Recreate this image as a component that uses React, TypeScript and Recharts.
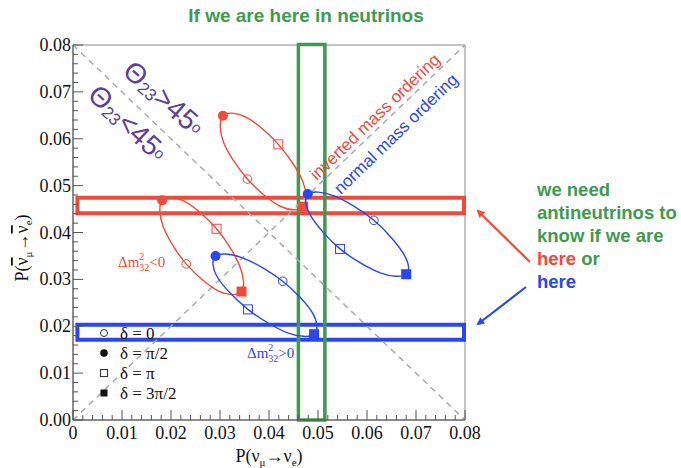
import React from 'react';
import { ComposedChart, Scatter, XAxis, YAxis, ReferenceArea, ReferenceLine } from 'recharts';

// points along each ellipse, in delta order 0, 45, 90 ... 315 degrees
const redUpper = [
  { x: 0.0356, y: 0.0514, d: 0 },
  { x: 0.0307, y: 0.0593, d: 45 },
  { x: 0.0306, y: 0.0649, d: 90 },
  { x: 0.0353, y: 0.0646, d: 135 },
  { x: 0.0419, y: 0.0588, d: 180 },
  { x: 0.0469, y: 0.0509, d: 225 },
  { x: 0.047, y: 0.0455, d: 270 },
  { x: 0.0423, y: 0.0456, d: 315 },
];
const redLower = [
  { x: 0.0231, y: 0.0333, d: 0 },
  { x: 0.0184, y: 0.0413, d: 45 },
  { x: 0.0182, y: 0.0469, d: 90 },
  { x: 0.0227, y: 0.0467, d: 135 },
  { x: 0.0293, y: 0.0408, d: 180 },
  { x: 0.034, y: 0.0329, d: 225 },
  { x: 0.0344, y: 0.0274, d: 270 },
  { x: 0.0297, y: 0.0275, d: 315 },
];
const blueLower = [
  { x: 0.0428, y: 0.0296, d: 0 },
  { x: 0.0346, y: 0.0346, d: 45 },
  { x: 0.0291, y: 0.035, d: 90 },
  { x: 0.0295, y: 0.0304, d: 135 },
  { x: 0.0357, y: 0.0236, d: 180 },
  { x: 0.0438, y: 0.0186, d: 225 },
  { x: 0.0492, y: 0.0183, d: 270 },
  { x: 0.0489, y: 0.0228, d: 315 },
];
const blueUpper = [
  { x: 0.0614, y: 0.0426, d: 0 },
  { x: 0.0533, y: 0.0478, d: 45 },
  { x: 0.0479, y: 0.0482, d: 90 },
  { x: 0.0485, y: 0.0436, d: 135 },
  { x: 0.0545, y: 0.0365, d: 180 },
  { x: 0.0627, y: 0.0314, d: 225 },
  { x: 0.068, y: 0.0311, d: 270 },
  { x: 0.0675, y: 0.0354, d: 315 },
];

const xTickLabels = ['0', '0.01', '0.02', '0.03', '0.04', '0.05', '0.06', '0.07', '0.08'];
const yTickLabels = ['0.00', '0.01', '0.02', '0.03', '0.04', '0.05', '0.06', '0.07', '0.08'];
const legendItems = ['δ = 0', 'δ = π/2', 'δ = π', 'δ = 3π/2'];

// highlight boxes
const redBox = { x1: 0.0009, x2: 0.0798, y1: 0.0441, y2: 0.0474 };
const blueBox = { x1: 0.0009, x2: 0.0798, y1: 0.0171, y2: 0.0203 };
const greenBox = { x1: 0.046, x2: 0.0514, y1: 0, y2: 0.0801 };

const RED = '#f04a3a';
const BLUE = '#2a46f0';
const GREEN = '#3d9a4f';
const PURPLE = '#5b3f9c';
const SERIF = '"Liberation Serif", "Times New Roman", serif';
const SANS = '"Liberation Sans", Arial, sans-serif';

const allTicks = Array.from({ length: 41 }, (_, i) => Math.round(i * 2) / 1000);

const isMajor = (v: number) => Math.abs(v * 100 - Math.round(v * 100)) < 1e-6;

// closed smooth curve through the points (catmull-rom)
const closedCurve = (context: any) => {
  let pts: number[][] = [];
  return {
    areaStart() {},
    areaEnd() {},
    lineStart() {
      pts = [];
    },
    point(x: number, y: number) {
      pts.push([+x, +y]);
    },
    lineEnd() {
      const n = pts.length;
      if (!n) return;
      context.moveTo(pts[0][0], pts[0][1]);
      for (let i = 0; i < n; i++) {
        const p0 = pts[(i - 1 + n) % n];
        const p1 = pts[i];
        const p2 = pts[(i + 1) % n];
        const p3 = pts[(i + 2) % n];
        context.bezierCurveTo(
          p1[0] + (p2[0] - p0[0]) / 6,
          p1[1] + (p2[1] - p0[1]) / 6,
          p2[0] - (p3[0] - p1[0]) / 6,
          p2[1] - (p3[1] - p1[1]) / 6,
          p2[0],
          p2[1]
        );
      }
      context.closePath();
    },
  };
};

const marker = (colour: string) => (props: any) => {
  const { cx, cy, payload } = props;
  const d = payload.d;
  if (d === 0) return <circle cx={cx} cy={cy} r={4.3} fill="none" stroke={colour} strokeWidth={1} />;
  if (d === 90) return <circle cx={cx} cy={cy} r={5} fill={colour} />;
  if (d === 180) return <rect x={cx - 4.5} y={cy - 4.5} width={9} height={9} fill="none" stroke={colour} strokeWidth={1} />;
  if (d === 270) return <rect x={cx - 5} y={cy - 5} width={10} height={10} fill={colour} />;
  return <g />;
};

const XTick = (props: any) => {
  const { x, y, payload } = props;
  const major = isMajor(payload.value);
  return (
    <g>
      <line x1={x} x2={x} y1={y} y2={y - (major ? 10 : 5)} stroke="#555" />
      {major && (
        <text x={x} y={y + 19} textAnchor="middle" fontSize={18} fontFamily={SERIF} fill="#111">
          {xTickLabels[Math.round(payload.value * 100)]}
        </text>
      )}
    </g>
  );
};

const YTick = (props: any) => {
  const { x, y, payload } = props;
  const major = isMajor(payload.value);
  return (
    <g>
      <line x1={x} x2={x + (major ? 10 : 5)} y1={y} y2={y} stroke="#555" />
      {major && (
        <text x={x - 2} y={y + 6} textAnchor="end" fontSize={18} fontFamily={SERIF} fill="#111">
          {yTickLabels[Math.round(payload.value * 100)]}
        </text>
      )}
    </g>
  );
};

const legendMark = (i: number, x: number, y: number) => {
  if (i === 0) return <circle cx={x} cy={y} r={3.5} fill="none" stroke="#333" />;
  if (i === 1) return <circle cx={x} cy={y} r={3.8} fill="#111" />;
  if (i === 2) return <rect x={x - 3.5} y={y - 3.5} width={7} height={7} fill="none" stroke="#333" />;
  return <rect x={x - 3.5} y={y - 3.5} width={7} height={7} fill="#111" />;
};

const bar = { textDecoration: 'overline' };

const Overlay = () => (
  <svg width={681} height={468} style={{ position: 'absolute', left: 0, top: 0, pointerEvents: 'none' }}>
    <defs>
      <marker id="arrRed" markerWidth="8" markerHeight="8" refX="6" refY="4" orient="auto" markerUnits="userSpaceOnUse">
        <path d="M0,0 L8,4 L0,8 z" fill={RED} />
      </marker>
      <marker id="arrBlue" markerWidth="8" markerHeight="8" refX="6" refY="4" orient="auto" markerUnits="userSpaceOnUse">
        <path d="M0,0 L8,4 L0,8 z" fill={BLUE} />
      </marker>
    </defs>
    {/* theta labels */}
    <text transform="translate(164,98) rotate(41)" textAnchor="middle" dominantBaseline="central" fontSize={28} fontFamily={SANS} fill={PURPLE}>
      Θ<tspan fontSize={17} dy={6}>23</tspan>
      <tspan dy={-6}>&gt;45</tspan>
      <tspan fontSize={15}>o</tspan>
    </text>
    <text transform="translate(128,123) rotate(43)" textAnchor="middle" dominantBaseline="central" fontSize={28} fontFamily={SANS} fill={PURPLE}>
      Θ<tspan fontSize={17} dy={6}>23</tspan>
      <tspan dy={-6}>&lt;45</tspan>
      <tspan fontSize={15}>o</tspan>
    </text>
    <text transform="translate(375,117) rotate(-44)" textAnchor="middle" dominantBaseline="central" fontSize={17} fontFamily={SANS} fill={RED}>
      inverted mass ordering
    </text>
    <text transform="translate(396,134) rotate(-44)" textAnchor="middle" dominantBaseline="central" fontSize={17} fontFamily={SANS} fill={BLUE}>
      normal mass ordering
    </text>
    {/* delta m^2 labels */}
    <text x={118} y={267} fontSize={15} fontFamily={SERIF} fill={RED}>
      Δm<tspan fontSize={10} dy={-7}>2</tspan>
      <tspan fontSize={10} dx={-5} dy={11}>32</tspan>
      <tspan dy={-4}>&lt;0</tspan>
    </text>
    <text x={247} y={358} fontSize={15} fontFamily={SERIF} fill={BLUE}>
      Δm<tspan fontSize={10} dy={-7}>2</tspan>
      <tspan fontSize={10} dx={-5} dy={11}>32</tspan>
      <tspan dy={-4}>&gt;0</tspan>
    </text>
    {/* legend */}
    {legendItems.map((t, i) => (
      <g key={t}>
        {legendMark(i, 104, 333 + i * 20)}
        <text x={120} y={339 + i * 20} fontSize={17} fontFamily={SERIF} fill="#111">
          {t}
        </text>
      </g>
    ))}
    {/* axis titles */}
    <text x={269} y={462} textAnchor="middle" fontSize={18} fontFamily={SERIF} fill="#111">
      P(ν<tspan fontSize={11} dy={4}>μ</tspan>
      <tspan dy={-4}>→ν</tspan>
      <tspan fontSize={11} dy={4}>e</tspan>
      <tspan dy={-4}>)</tspan>
    </text>
    <text transform="translate(28,248) rotate(-90)" textAnchor="middle" fontSize={18} fontFamily={SERIF} fill="#111">
      P(<tspan style={bar}>ν</tspan>
      <tspan fontSize={11} dy={4}>μ</tspan>
      <tspan dy={-4}>→</tspan>
      <tspan style={bar}>ν</tspan>
      <tspan fontSize={11} dy={4}>e</tspan>
      <tspan dy={-4}>)</tspan>
    </text>
    {/* arrows */}
    <line x1={530} y1={262} x2={478} y2={211} stroke={RED} strokeWidth={2.2} markerEnd="url(#arrRed)" />
    <line x1={526} y1={287} x2={478} y2={324} stroke={BLUE} strokeWidth={2.2} markerEnd="url(#arrBlue)" />
  </svg>
);

export default function App() {
  return (
    <div style={{ position: 'absolute', left: 0, top: 0, width: 681, height: 468, background: '#fff', overflow: 'hidden' }}>
      <ComposedChart width={681} height={468} margin={{ top: 45, right: 216, bottom: 18, left: 13 }}>
        <XAxis
          type="number"
          dataKey="x"
          domain={[0, 0.08]}
          ticks={allTicks}
          interval={0}
          tick={<XTick />}
          tickLine={false}
          tickSize={0}
          tickMargin={0}
          height={30}
          axisLine={{ stroke: '#555' }}
          allowDataOverflow
        />
        <YAxis
          type="number"
          dataKey="y"
          domain={[0, 0.08]}
          ticks={allTicks}
          interval={0}
          tick={<YTick />}
          tickLine={false}
          tickSize={0}
          tickMargin={0}
          width={60}
          axisLine={{ stroke: '#555' }}
          allowDataOverflow
        />
        <ReferenceArea x1={0} x2={0.08} y1={0} y2={0.08} fill="none" stroke="#888" strokeWidth={1} />
        <ReferenceLine segment={[{ x: 0, y: 0.08 }, { x: 0.08, y: 0 }]} stroke="#aaa" strokeWidth={1.5} strokeDasharray="6 5" />
        <ReferenceLine segment={[{ x: 0, y: 0 }, { x: 0.08, y: 0.08 }]} stroke="#aaa" strokeWidth={1.5} strokeDasharray="6 5" />
        <Scatter data={redUpper} line={{ stroke: RED, strokeWidth: 1.4 }} lineJointType={closedCurve as any} shape={marker(RED)} isAnimationActive={false} />
        <Scatter data={redLower} line={{ stroke: RED, strokeWidth: 1.4 }} lineJointType={closedCurve as any} shape={marker(RED)} isAnimationActive={false} />
        <Scatter data={blueLower} line={{ stroke: BLUE, strokeWidth: 1.4 }} lineJointType={closedCurve as any} shape={marker(BLUE)} isAnimationActive={false} />
        <Scatter data={blueUpper} line={{ stroke: BLUE, strokeWidth: 1.4 }} lineJointType={closedCurve as any} shape={marker(BLUE)} isAnimationActive={false} />
        <ReferenceArea {...redBox} fill="none" stroke={RED} strokeWidth={4} ifOverflow="visible" />
        <ReferenceArea {...blueBox} fill="none" stroke={BLUE} strokeWidth={4} ifOverflow="visible" />
        <ReferenceArea {...greenBox} fill="none" stroke={GREEN} strokeWidth={3.5} ifOverflow="visible" />
      </ComposedChart>
      <Overlay />
      <div
        style={{
          position: 'absolute',
          left: 188,
          top: 5,
          width: 236,
          textAlign: 'center',
          fontFamily: SANS,
          fontWeight: 'bold',
          fontSize: 19,
          color: GREEN,
          whiteSpace: 'nowrap',
        }}
      >
        If we are here in neutrinos
      </div>
      <div
        style={{
          position: 'absolute',
          left: 537,
          top: 178,
          fontFamily: SANS,
          fontWeight: 'bold',
          fontSize: 18.5,
          lineHeight: '23px',
          color: GREEN,
          whiteSpace: 'nowrap',
        }}
      >
        we need
        <br />
        antineutrinos to
        <br />
        know if we are
        <br />
        <span style={{ color: RED }}>here</span> or
        <br />
        <span style={{ color: BLUE }}>here</span>
      </div>
    </div>
  );
}
